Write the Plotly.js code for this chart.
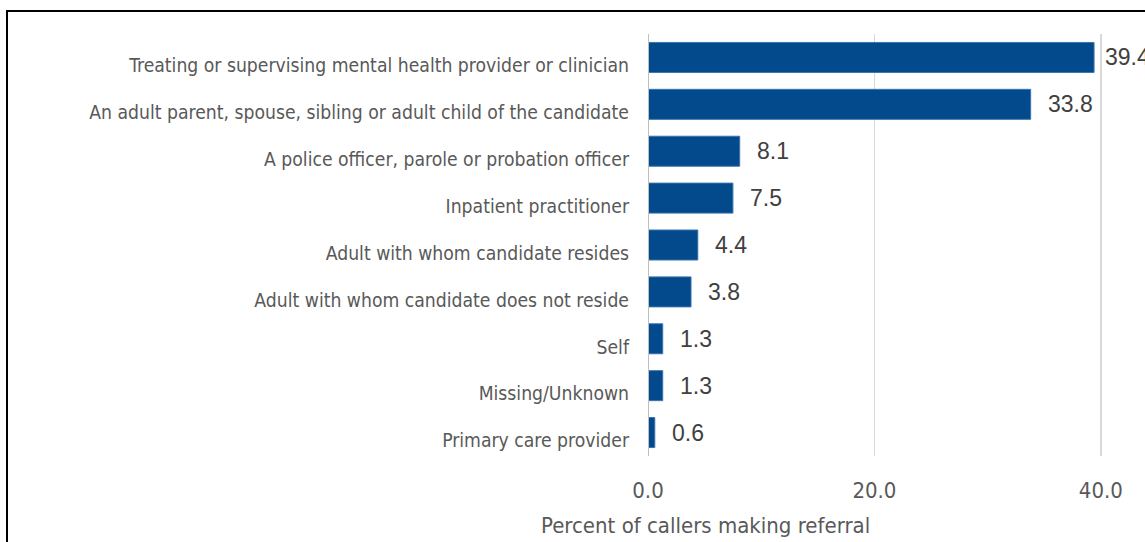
<!DOCTYPE html>
<html>
<head>
<meta charset="utf-8">
<script src="https://cdn.plot.ly/plotly-3.0.1.min.js"></script>
<style>
html,body{margin:0;padding:0;background:#fff;overflow:hidden;}
#chart{position:absolute;left:0;top:0;width:1145px;height:542px;}
#frame{position:absolute;left:6px;top:10px;width:2000px;height:2000px;border:2px solid #000;pointer-events:none;box-sizing:border-box;}
</style>
</head>
<body>
<div id="chart"></div>
<div id="frame"></div>
<script>
const categories = [
  "Treating or supervising mental health provider or clinician",
  "An adult parent, spouse, sibling or adult child of the candidate",
  "A police officer, parole or probation officer",
  "Inpatient practitioner",
  "Adult with whom candidate resides",
  "Adult with whom candidate does not reside",
  "Self",
  "Missing/Unknown",
  "Primary care provider"
];
const percents = [39.4, 33.8, 8.1, 7.5, 4.4, 3.8, 1.3, 1.3, 0.6];
const tickValues = [0, 20, 40];
const tickLabels = ["0.0", "20.0", "40.0"];
const axisTitle = "Percent of callers making referral";

const narrow = "Liberation Sans Narrow, DejaVu Sans Condensed, sans-serif";
const labelFont = "Liberation Sans, Arial, sans-serif";

const trace = {
  type: "bar",
  orientation: "h",
  x: percents,
  y: categories,
  marker: {color: "#024a8c", line: {color: "#3a73ad", width: 1}},
  hoverinfo: "none"
};

const annotations = percents.map((v, i) => ({
  x: v, y: categories[i], xref: "x", yref: "y",
  text: v.toFixed(1), showarrow: false,
  xanchor: "left", yanchor: "middle", xshift: (i === 0 ? 9 : 15),
  font: {family: labelFont, size: 23, color: "#404040"}
}));
annotations.push({
  x: 0.1167, y: 0, xref: "paper", yref: "paper", yshift: -69,
  text: axisTitle, showarrow: false, xanchor: "center", yanchor: "middle",
  font: {family: narrow, size: 22, color: "#595959"}
});

const layout = {
  width: 1145, height: 542,
  margin: {l: 648, r: 0, t: 33.5, b: 85.5, pad: 0},
  paper_bgcolor: "#fff", plot_bgcolor: "#fff",
  showlegend: false,
  bargap: 0.36,
  xaxis: {
    range: [0, 43.9], tickvals: tickValues, ticktext: tickLabels,
    showgrid: true, gridcolor: "#d9d9d9", gridwidth: 1.5,
    zeroline: false, showline: false, ticks: "",
    tickfont: {family: narrow, size: 22, color: "#595959"},
    ticklabelstandoff: 19
  },
  yaxis: {
    autorange: "reversed", type: "category",
    showgrid: false, zeroline: false,
    showline: false, ticks: "",
    tickfont: {family: narrow, size: 19.2, color: "#595959"},
    ticklabelstandoff: 18, ticklabelshift: -8
  },
  shapes: [{
    type: "line", xref: "x", yref: "paper", x0: 0, x1: 0, y0: 0, y1: 1,
    line: {color: "#bfbfbf", width: 2}
  }],
  annotations: annotations
};

Plotly.newPlot("chart", [trace], layout, {displayModeBar: false, staticPlot: true});
</script>
</body>
</html>
